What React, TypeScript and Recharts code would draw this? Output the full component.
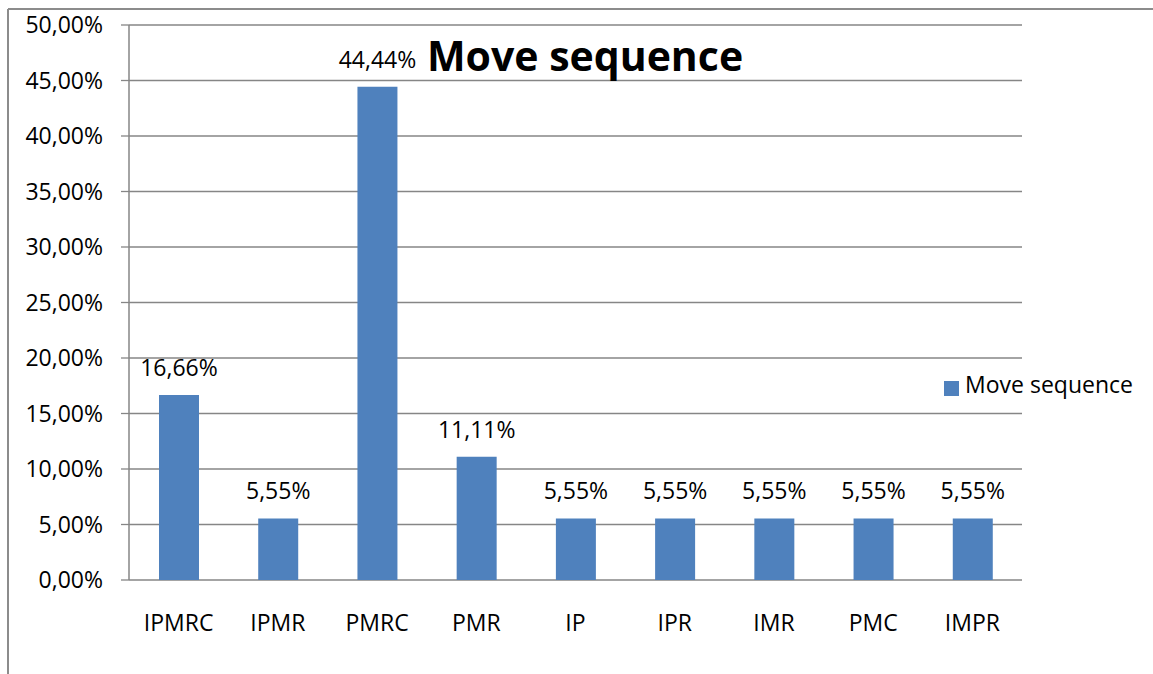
import React from "react";
import {
  BarChart,
  Bar,
  XAxis,
  YAxis,
  CartesianGrid,
  Legend,
  LabelList,
} from "recharts";

const categories = ["IPMRC", "IPMR", "PMRC", "PMR", "IP", "IPR", "IMR", "PMC", "IMPR"];
const moveSequence = [16.66, 5.55, 44.44, 11.11, 5.55, 5.55, 5.55, 5.55, 5.55];
const yTicks = [0, 5, 10, 15, 20, 25, 30, 35, 40, 45, 50];
const edgeTicks = [0, 1, 2, 3, 4, 5, 6, 7, 8, 9];
const seriesName = "Move sequence";
const chartTitle = "Move sequence";

const data = categories.map((c, i) => ({ name: c, idx: i + 0.5, value: moveSequence[i] }));

const FONT = "'Open Sans', sans-serif";
const GRAY = "#868686";
const BLUE = "#4F81BD";
const FS = 23;

const fmt = (v: number) => v.toFixed(2).replace(".", ",") + "%";

export default function App() {
  return (
    <div style={{ position: "absolute", left: 0, top: 0, width: 1153, height: 674, background: "#fff", fontFamily: FONT }}>
      <BarChart
        width={1153}
        height={674}
        data={data}
        margin={{ top: 25, right: 131, left: 0, bottom: 0 }}
        style={{ fontFamily: FONT }}
      >
        <CartesianGrid horizontal vertical={false} stroke={GRAY} strokeWidth={1.3} />
        <XAxis
          xAxisId="edges"
          type="number"
          dataKey="idx"
          domain={[0, 9]}
          ticks={edgeTicks}
          height={0}
          axisLine={{ stroke: GRAY, strokeWidth: 2 }}
          tickLine={{ stroke: GRAY, strokeWidth: 2 }}
          tickSize={8}
          tick={() => <g />}
          allowDataOverflow
        />
        <XAxis
          dataKey="name"
          height={94}
          axisLine={false}
          tickLine={false}
          tickSize={8}
          tickMargin={27}
          interval={0}
          tick={{ fill: "#000", fontSize: FS, fontFamily: FONT }}
        />
        <YAxis
          width={129}
          domain={[0, 50]}
          ticks={yTicks}
          tickFormatter={fmt}
          axisLine={{ stroke: GRAY, strokeWidth: 1.5 }}
          tickLine={{ stroke: GRAY, strokeWidth: 1.3 }}
          tickSize={8}
          tickMargin={18}
          interval={0}
          tick={{ fill: "#000", fontSize: FS, fontFamily: FONT }}
        />
        <Legend
          layout="horizontal"
          align="center"
          verticalAlign="middle"
          iconType="square"
          iconSize={15}
          wrapperStyle={{ position: "absolute", left: 934, top: 368, width: 219, textAlign: "left" }}
          formatter={(v: string) => (
            <span style={{ color: "#000", fontSize: FS, fontFamily: FONT, marginLeft: 2 }}>{v}</span>
          )}
        />
        <Bar dataKey="value" name={seriesName} fill={BLUE} barSize={40} isAnimationActive={false}>
          <LabelList
            dataKey="value"
            position="top"
            offset={19}
            formatter={(v: number) => fmt(v)}
            style={{ fill: "#000", fontSize: FS, fontFamily: FONT }}
          />
        </Bar>
      </BarChart>
      <svg
        width={1153}
        height={674}
        style={{ position: "absolute", left: 0, top: 0, pointerEvents: "none" }}
      >
        <line x1={8} y1={9} x2={1153} y2={9} stroke="#8c8c8c" strokeWidth={2} />
        <line x1={8} y1={9} x2={8} y2={674} stroke="#8c8c8c" strokeWidth={2} />
        <text
          x={585}
          y={71}
          textAnchor="middle"
          fontFamily={FONT}
          fontWeight={700}
          fontSize={41}
          fill="#000"
        >
          {chartTitle}
        </text>
      </svg>
    </div>
  );
}
